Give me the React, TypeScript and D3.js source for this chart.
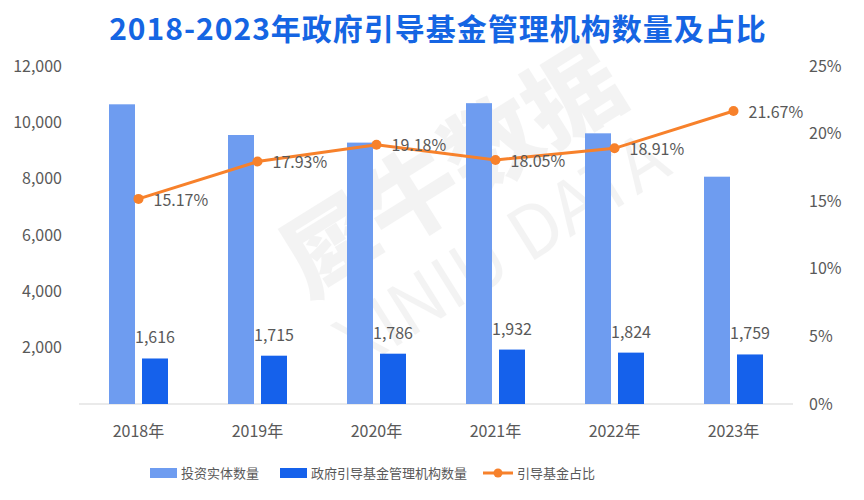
import { useEffect, useRef } from "react"
import * as d3 from "d3"

const years = ["2018年", "2019年", "2020年", "2021年", "2022年", "2023年"]
const entityCounts = [10640, 9550, 9280, 10680, 9610, 8070]
const managerCounts = [1616, 1715, 1786, 1932, 1824, 1759]
const shareValues = [15.17, 17.93, 19.18, 18.05, 18.91, 21.67]
const leftTicks = [0, 2000, 4000, 6000, 8000, 10000, 12000]
const rightTicks = [0, 5, 10, 15, 20, 25]
const seriesNames = ["投资实体数量", "政府引导基金管理机构数量", "引导基金占比"]

const W = 864
const H = 500
const FONT = "'Noto Sans CJK SC', 'Noto Sans', sans-serif"
const LIGHT = "#6E9CF0"
const DARK = "#1561EB"
const ORANGE = "#F7812B"
const TEXT = "#595959"

export default function App() {
  const svgRef = useRef<SVGSVGElement>(null)

  useEffect(() => {
    if (!svgRef.current) return
    const svg = d3.select(svgRef.current)
    svg.selectAll("*").remove()

    const margin = { top: 66, right: 71, bottom: 96, left: 79 }
    const innerW = W - margin.left - margin.right
    const innerH = H - margin.top - margin.bottom

    // watermark
    const wm = svg.append("g").attr("transform", "translate(470,200) rotate(-32)").attr("opacity", 0.045)
    wm.append("text")
      .attr("text-anchor", "middle")
      .attr("font-family", FONT)
      .attr("font-weight", 900)
      .attr("font-size", 95)
      .attr("fill", "#000")
      .text("犀牛数据")
    wm.append("text")
      .attr("y", 85)
      .attr("text-anchor", "middle")
      .attr("font-family", FONT)
      .attr("font-size", 72)
      .attr("fill", "#000")
      .text("XINIU DATA")

    // title
    svg.append("text")
      .attr("x", W / 2 + 6)
      .attr("y", 40)
      .attr("text-anchor", "middle")
      .attr("font-family", FONT)
      .attr("font-weight", 700)
      .attr("font-size", 30)
      .attr("letter-spacing", 1)
      .attr("fill", "#1565E3")
      .text("2018-2023年政府引导基金管理机构数量及占比")

    const g = svg.append("g").attr("transform", `translate(${margin.left},${margin.top})`)

    const x = d3.scaleBand().domain(years).range([0, innerW])
    const y = d3.scaleLinear().domain([0, 12000]).range([innerH, 0])
    const yR = d3.scaleLinear().domain([0, 25]).range([innerH, 0])

    const barW = 26
    const gap = 7

    // left axis labels
    g.selectAll(".lt")
      .data(leftTicks.slice(1))
      .enter()
      .append("text")
      .attr("x", -17)
      .attr("y", (d) => y(d))
      .attr("dy", "0.35em")
      .attr("text-anchor", "end")
      .attr("font-family", FONT)
      .attr("font-size", 16)
      .attr("fill", TEXT)
      .text((d) => d3.format(",")(d))

    // right axis labels
    g.selectAll(".rt")
      .data(rightTicks)
      .enter()
      .append("text")
      .attr("x", innerW + 16)
      .attr("y", (d) => yR(d))
      .attr("dy", "0.35em")
      .attr("text-anchor", "start")
      .attr("font-family", FONT)
      .attr("font-size", 16)
      .attr("fill", TEXT)
      .text((d) => `${d}%`)

    // baseline
    g.append("line")
      .attr("x1", 0)
      .attr("x2", innerW)
      .attr("y1", innerH)
      .attr("y2", innerH)
      .attr("stroke", "#E3E3E3")
      .attr("stroke-width", 1.5)

    // x labels
    g.selectAll(".xl")
      .data(years)
      .enter()
      .append("text")
      .attr("x", (d) => (x(d) ?? 0) + x.bandwidth() / 2)
      .attr("y", innerH + 33)
      .attr("text-anchor", "middle")
      .attr("font-family", FONT)
      .attr("font-size", 16)
      .attr("fill", TEXT)
      .text((d) => d)

    const cx = (i: number) => (x(years[i]) ?? 0) + x.bandwidth() / 2

    // light bars
    g.selectAll(".b1")
      .data(entityCounts)
      .enter()
      .append("rect")
      .attr("x", (_, i) => cx(i) - gap / 2 - barW)
      .attr("y", (d) => y(d))
      .attr("width", barW)
      .attr("height", (d) => innerH - y(d))
      .attr("fill", LIGHT)

    // dark bars
    g.selectAll(".b2")
      .data(managerCounts)
      .enter()
      .append("rect")
      .attr("x", (_, i) => cx(i) + gap / 2)
      .attr("y", (d) => y(d))
      .attr("width", barW)
      .attr("height", (d) => innerH - y(d))
      .attr("fill", DARK)

    g.selectAll(".b2l")
      .data(managerCounts)
      .enter()
      .append("text")
      .attr("x", (_, i) => cx(i) + gap / 2 + barW / 2)
      .attr("y", (d) => y(d) - 15)
      .attr("text-anchor", "middle")
      .attr("font-family", FONT)
      .attr("font-size", 16)
      .attr("fill", TEXT)
      .text((d) => d3.format(",")(d))

    // line
    const line = d3
      .line<number>()
      .x((_, i) => cx(i))
      .y((d) => yR(d))
    g.append("path")
      .datum(shareValues)
      .attr("d", line)
      .attr("fill", "none")
      .attr("stroke", ORANGE)
      .attr("stroke-width", 3)

    g.selectAll(".pt")
      .data(shareValues)
      .enter()
      .append("circle")
      .attr("cx", (_, i) => cx(i))
      .attr("cy", (d) => yR(d))
      .attr("r", 5)
      .attr("fill", ORANGE)

    g.selectAll(".ptl")
      .data(shareValues)
      .enter()
      .append("text")
      .attr("x", (_, i) => cx(i) + 15)
      .attr("y", (d) => yR(d) + 1)
      .attr("dy", "0.35em")
      .attr("font-family", FONT)
      .attr("font-size", 16)
      .attr("fill", TEXT)
      .text((d) => `${d.toFixed(2)}%`)

    // legend
    const lg = svg.append("g").attr("transform", "translate(0,473)")
    const items = [
      { x: 150, type: "rect", color: LIGHT, name: seriesNames[0] },
      { x: 280, type: "rect", color: DARK, name: seriesNames[1] },
      { x: 483, type: "line", color: ORANGE, name: seriesNames[2] },
    ]
    items.forEach((it) => {
      if (it.type === "rect") {
        lg.append("rect").attr("x", it.x).attr("y", -5).attr("width", 27).attr("height", 10).attr("fill", it.color)
      } else {
        lg.append("line")
          .attr("x1", it.x)
          .attr("x2", it.x + 30)
          .attr("y1", 0)
          .attr("y2", 0)
          .attr("stroke", it.color)
          .attr("stroke-width", 3)
        lg.append("circle").attr("cx", it.x + 15).attr("cy", 0).attr("r", 4.5).attr("fill", it.color)
      }
      lg.append("text")
        .attr("x", it.x + (it.type === "rect" ? 31 : 34))
        .attr("y", 0)
        .attr("dy", "0.35em")
        .attr("font-family", FONT)
        .attr("font-size", 13)
        .attr("fill", TEXT)
        .text(it.name)
    })
  }, [])

  return (
    <svg
      ref={svgRef}
      width={W}
      height={H}
      style={{ position: "absolute", left: 0, top: 0, background: "#fff" }}
    />
  )
}
